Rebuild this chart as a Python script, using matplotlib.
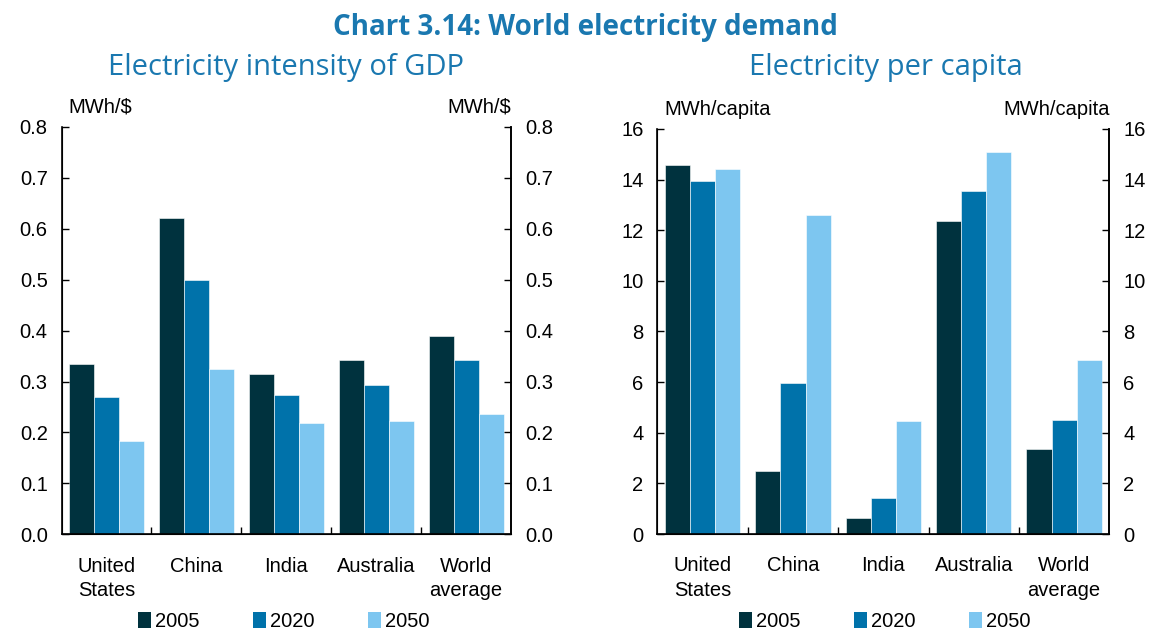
import matplotlib
matplotlib.use("Agg")
import matplotlib.pyplot as plt
import numpy as np
from matplotlib.patches import Patch

categories = ["United\nStates", "China", "India", "Australia", "World\naverage"]
years = ["2005", "2020", "2050"]
intensity_2005 = [0.334, 0.622, 0.314, 0.342, 0.390]
intensity_2020 = [0.269, 0.499, 0.273, 0.293, 0.343]
intensity_2050 = [0.183, 0.324, 0.218, 0.222, 0.236]
percap_2005 = [14.56, 2.48, 0.63, 12.37, 3.36]
percap_2020 = [13.96, 5.98, 1.42, 13.56, 4.49]
percap_2050 = [14.43, 12.61, 4.47, 15.09, 6.89]

colors = ["#00323E", "#0072AA", "#7DC6F0"]
title_color = "#1A78B0"
plt.rcParams['font.family'] = ['Liberation Sans', 'DejaVu Sans']
FS = 14.5

fig = plt.figure(figsize=(11.52, 6.32), dpi=100)

def panel(rect, series, ymax, step, unit, fmt):
    ax = fig.add_axes(rect)
    x = np.arange(len(categories))
    w = 0.278
    for i, (vals, c) in enumerate(zip(series, colors)):
        ax.bar(x + (i - 1) * w, vals, width=w, color=c, edgecolor="white", linewidth=0.4)
    ax.set_xlim(-0.5, len(categories) - 0.5)
    ax.set_ylim(0, ymax)
    ticks = np.arange(0, ymax + step / 2, step)
    ax.set_yticks(ticks)
    ax.set_yticklabels([fmt.format(t) for t in ticks])
    ax.set_xticks(np.arange(0.5, len(categories) - 1, 1))
    ax.set_xticklabels([])
    ax.tick_params(axis='x', direction='in', length=5, width=1)
    ax.tick_params(axis='y', direction='in', length=5, width=1, labelsize=FS, pad=10)
    ax.spines['top'].set_visible(False)
    for s in ['left', 'right', 'bottom']:
        ax.spines[s].set_linewidth(1.2)
    for xi, lab in zip(x, categories):
        ax.text(xi, -0.055 * ymax, lab, ha='center', va='top', fontsize=FS,
                linespacing=1.35)
    ax2 = ax.twinx()
    ax2.set_ylim(0, ymax)
    ax2.set_yticks(ticks)
    ax2.set_yticklabels([fmt.format(t) for t in ticks])
    ax2.tick_params(axis='y', direction='in', length=5, width=1, labelsize=FS, pad=10)
    ax2.spines['top'].set_visible(False)
    ax2.spines['right'].set_linewidth(1.2)
    ax.text(0.015, 1.025, unit, transform=ax.transAxes, ha='left', va='bottom', fontsize=FS)
    ax.text(1.0, 1.025, unit, transform=ax.transAxes, ha='right', va='bottom', fontsize=FS)
    return ax

ax1 = panel([0.0534, 0.1546, 0.3902, 0.6445],
            [intensity_2005, intensity_2020, intensity_2050], 0.8, 0.1, "MWh/$", "{:.1f}")
ax2 = panel([0.5706, 0.1550, 0.3924, 0.6410],
            [percap_2005, percap_2020, percap_2050], 16, 2, "MWh/capita", "{:.0f}")

handles = [Patch(facecolor=c, edgecolor='none') for c in colors]
for ax, cx in [(ax1, 0.246), (ax2, 0.768)]:
    fig.legend(handles, years, loc='center', bbox_to_anchor=(cx, 0.016), ncol=3,
               frameon=False, fontsize=FS, handlelength=0.65, handleheight=0.85,
               handletextpad=0.2, columnspacing=2.65)

fig.text(0.508, 0.9446, "Chart 3.14: World electricity demand", ha='center', va='baseline',
         fontsize=20, fontweight='bold', color=title_color, family='Open Sans')
fig.text(0.248, 0.8813, "Electricity intensity of GDP", ha='center', va='baseline',
         fontsize=21, color=title_color, family='Open Sans')
fig.text(0.769, 0.8813, "Electricity per capita", ha='center', va='baseline',
         fontsize=21, color=title_color, family='Open Sans')

fig.savefig("out.png", dpi=100)
